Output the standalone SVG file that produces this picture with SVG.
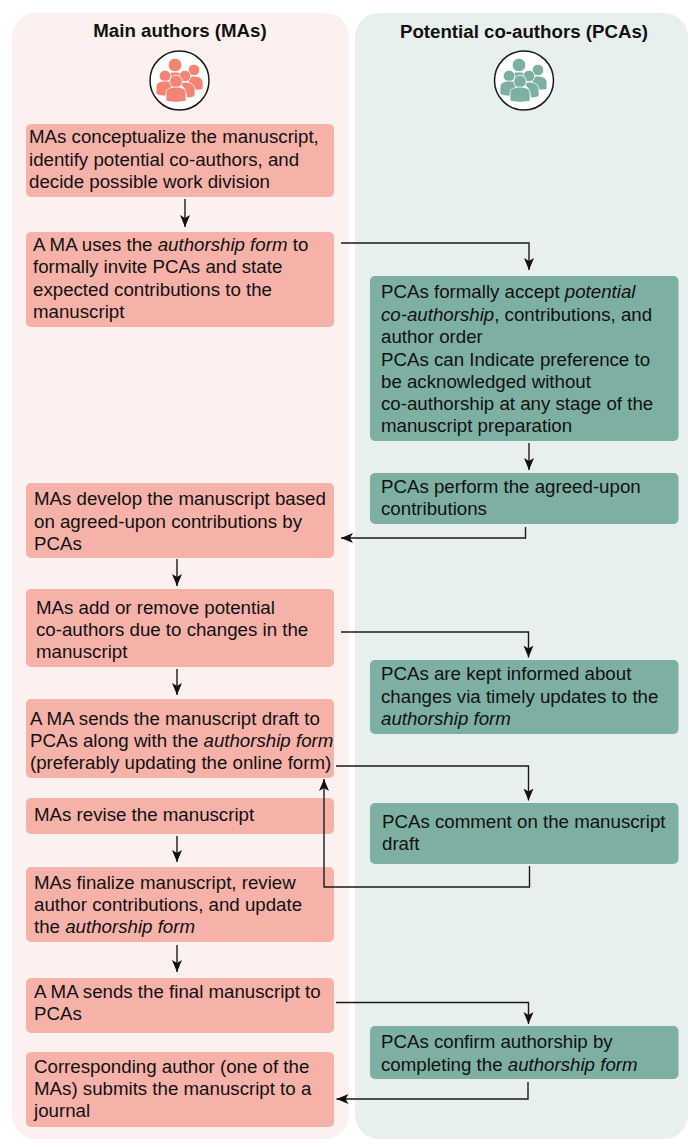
<svg xmlns="http://www.w3.org/2000/svg" width="688" height="1139" viewBox="0 0 688 1139">
<style>
text{font-family:"Liberation Sans",Arial,sans-serif;font-size:18.7px;fill:#111}
.h{font-weight:700;text-anchor:middle}
.l{fill:#f6b2a9}
.r{fill:#7db0a3}
.c{fill:none;stroke:#1a1a1a;stroke-width:1.4}
.ring{fill:#fff;stroke:#1a1a1a;stroke-width:1.5}
</style>
<defs>
<marker id="b" markerUnits="userSpaceOnUse" markerWidth="13" markerHeight="11" refX="12" refY="5.5" orient="auto" viewBox="0 0 13 11"><path d="M0 0.500L12 5.500 0 10.500 3 5.500Z" fill="#111"/></marker>
<g id="people" stroke="#fff" stroke-width="0.8">
<circle cx="-5" cy="-15" r="6.800"/><path d="M-15 0c0-6 4-8 10-8s10 2 10 8z"/>
<circle cx="14" cy="-10" r="5.800"/><path d="M8-3c2-1 4-1 6-1 6 0 9 3 9 7v6c-2 1-5 1-8 1l-7-8z"/>
<circle cx="-15" cy="-4" r="5.800"/><path d="M-24 14v-7c0-4 4-6 9-6 5 0 8 2 8 4l-6 11c-4 0-8 0-11-2z"/>
<circle cx="5" cy="-4" r="5.800"/><path d="M4 2c7 0 11 3 11 8v6c-2 1-5 2-8 2l-3-10-4-4z"/>
<circle cx="-4" cy="1.500" r="6.300"/><path d="M-14 21v-8c0-4 4-6 10-6s10 2 10 6v8c-6 1.500-14 1.500-20 0z"/>
</g>
</defs>
<g id="lane-ma"><rect x="12" y="13" width="337" height="1126" rx="24" fill="#fdf1ef"/><text class="h" x="180" y="37">Main authors (MAs)</text><circle class="ring" cx="179.500" cy="80.500" r="29.500"/><use href="#people" x="180" y="80" fill="#f38373"/></g>
<g id="lane-pca"><rect x="355" y="13" width="333" height="1126" rx="24" fill="#e7f0ee"/><text class="h" x="524" y="38">Potential co-authors (PCAs)</text><circle class="ring" cx="524" cy="80.500" r="29.500"/><use href="#people" x="524" y="80" fill="#7db0a3"/></g>
<g id="n1"><rect class="l" x="26" y="124" width="308" height="73" rx="5"/><text x="29" y="143">MAs conceptualize the manuscript,</text><text x="29" y="166">identify potential co-authors, and</text><text x="29" y="188">decide possible work division</text></g>
<g id="n2"><rect class="l" x="26" y="232" width="308" height="95" rx="5"/><text x="33" y="251">A MA uses the <tspan font-style="italic">authorship form</tspan> to</text><text x="33" y="273">formally invite PCAs and state</text><text x="33" y="296">expected contributions to the</text><text x="33" y="318">manuscript</text></g>
<g id="n3"><rect class="l" x="26" y="483" width="308" height="75" rx="5"/><text x="34" y="505">MAs develop the manuscript based</text><text x="34" y="528">on agreed-upon contributions by</text><text x="34" y="550">PCAs</text></g>
<g id="n4"><rect class="l" x="26" y="589" width="308" height="78" rx="5"/><text x="36" y="614">MAs add or remove potential</text><text x="36" y="636">co-authors due to changes in the</text><text x="36" y="658">manuscript</text></g>
<g id="n5"><rect class="l" x="26" y="699" width="308" height="79" rx="5"/><text x="30" y="725">A MA sends the manuscript draft to</text><text x="30" y="747">PCAs along with the <tspan font-style="italic">authorship form</tspan></text><text x="30" y="769">(preferably updating the online form)</text></g>
<g id="n6"><rect class="l" x="26" y="798" width="308" height="36" rx="5"/><text x="34" y="821">MAs revise the manuscript</text></g>
<g id="n7"><rect class="l" x="26" y="867" width="308" height="75" rx="5"/><text x="34" y="889">MAs finalize manuscript, review</text><text x="34" y="911">author contributions, and update</text><text x="34" y="933">the <tspan font-style="italic">authorship form</tspan></text></g>
<g id="n8"><rect class="l" x="26" y="978" width="308" height="55" rx="5"/><text x="34" y="998">A MA sends the final manuscript to</text><text x="34" y="1020">PCAs</text></g>
<g id="n9"><rect class="l" x="26" y="1052" width="308" height="75" rx="5"/><text x="34" y="1073">Corresponding author (one of the</text><text x="34" y="1095">MAs) submits the manuscript to a</text><text x="34" y="1117">journal</text></g>
<g id="p1"><rect class="r" x="370" y="276" width="308.500" height="165" rx="5"/><text x="381" y="298">PCAs formally accept <tspan font-style="italic">potential</tspan></text><text x="381" y="321"><tspan font-style="italic">co-authorship</tspan>, contributions, and</text><text x="381" y="343">author order</text><text x="381" y="366">PCAs can Indicate preference to</text><text x="381" y="388">be acknowledged without</text><text x="381" y="410">co-authorship at any stage of the</text><text x="381" y="432">manuscript preparation</text></g>
<g id="p2"><rect class="r" x="370" y="473" width="308.500" height="51" rx="5"/><text x="381" y="492.500">PCAs perform the agreed-upon</text><text x="381" y="514.500">contributions</text></g>
<g id="p3"><rect class="r" x="370" y="660" width="308.500" height="74" rx="5"/><text x="381" y="680">PCAs are kept informed about</text><text x="381" y="703">changes via timely updates to the</text><text x="381" y="725"><tspan font-style="italic">authorship form</tspan></text></g>
<g id="p4"><rect class="r" x="370" y="803" width="308.500" height="61" rx="5"/><text x="382" y="828">PCAs comment on the manuscript</text><text x="382" y="850">draft</text></g>
<g id="p5"><rect class="r" x="370" y="1026" width="308.500" height="53" rx="5"/><text x="381" y="1048">PCAs confirm authorship by</text><text x="381" y="1070.500">completing the <tspan font-style="italic">authorship form</tspan></text></g>
<g id="connectors">
<path class="c" d="M185 199V227" marker-end="url(#b)"/>
<path class="c" d="M341 243H529V270" marker-end="url(#b)"/>
<path class="c" d="M529 443V470" marker-end="url(#b)"/>
<path class="c" d="M525.500 527V538H341" marker-end="url(#b)"/>
<path class="c" d="M177 559V586" marker-end="url(#b)"/>
<path class="c" d="M341 632H528.500V657.500" marker-end="url(#b)"/>
<path class="c" d="M177 669V695" marker-end="url(#b)"/>
<path class="c" d="M336 766H528.500V800.500" marker-end="url(#b)"/>
<path class="c" d="M177 836V862" marker-end="url(#b)"/>
<path class="c" d="M529.500 866V887H324V779" marker-end="url(#b)"/>
<path class="c" d="M177 945V972" marker-end="url(#b)"/>
<path class="c" d="M336 1002.500H528.500V1024" marker-end="url(#b)"/>
<path class="c" d="M528 1082V1099H336.500" marker-end="url(#b)"/>
</g>
</svg>
